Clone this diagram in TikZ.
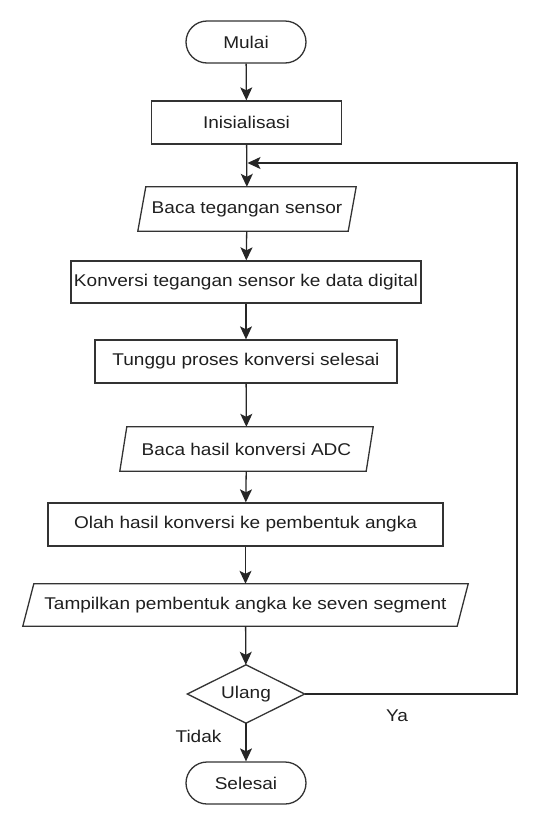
\documentclass[tikz,border=0pt]{standalone}
\usepackage{fontspec}
\setmainfont[FakeStretch=1.12]{Liberation Sans}
\usetikzlibrary{arrows.meta}
\begin{document}
\begin{tikzpicture}[x=1pt,y=-1pt,
  every node/.style={font=\fontsize{17}{20}\selectfont, text=black!88, inner sep=0pt},
  box/.style={draw=black!80, line width=1.3pt, minimum height=43pt},
  term/.style={box, rounded corners=21pt, minimum width=120pt, minimum height=42pt},
  iobox/.style={minimum height=44pt},
  shapeline/.style={draw=black!80, line width=1.3pt},
  flow/.style={draw=black!85, line width=1.3pt, -{Stealth[length=13pt,width=12pt,inset=3pt]}}
]
\useasboundingbox (0,0) rectangle (540,828);

\node[term] (mulai) at (246,42) {Mulai};
\node[box, minimum width=190pt] (init) at (246.5,122.5) {Inisialisasi};
\node[iobox, minimum width=210pt] (baca1) at (247,209) {Baca tegangan sensor};
\draw[shapeline] ([xshift=4pt]baca1.north west) -- ([xshift=4pt]baca1.north east) -- ([xshift=-4pt]baca1.south east) -- ([xshift=-4pt]baca1.south west) -- cycle;
\node[box, minimum width=350pt, minimum height=42pt] (konv) at (246,282) {Konversi tegangan sensor ke data digital};
\node[box, minimum width=302pt] (tunggu) at (246,361.5) {Tunggu proses konversi selesai};
\node[iobox, minimum width=246pt] (baca2) at (246.5,449) {Baca hasil konversi ADC};
\draw[shapeline] ([xshift=3.5pt]baca2.north west) -- ([xshift=3.5pt]baca2.north east) -- ([xshift=-3.5pt]baca2.south east) -- ([xshift=-3.5pt]baca2.south west) -- cycle;
\node[box, minimum width=395pt] (olah) at (245.5,524.5) {Olah hasil konversi ke pembentuk angka};
\node[iobox, minimum width=434pt, minimum height=42pt] (tampil) at (245.5,605) {Tampilkan pembentuk angka ke seven segment};
\draw[shapeline] ([xshift=5.5pt]tampil.north west) -- ([xshift=5.5pt]tampil.north east) -- ([xshift=-5.5pt]tampil.south east) -- ([xshift=-5.5pt]tampil.south west) -- cycle;
\node[minimum width=117pt, minimum height=58pt] (ulang) at (246,694) {Ulang};
\draw[shapeline] (ulang.north) -- (ulang.east) -- (ulang.south) -- (ulang.west) -- cycle;
\node[term] (selesai) at (246,783) {Selesai};

\node (ya) at (397,716) {Ya};
\node (tidak) at (198.5,736) {Tidak};

\coordinate (lc) at (517,163);
\coordinate (loopin) at (247.5,163);

\draw[flow] (mulai) -- (init);
\draw[flow] (init) -- (baca1);
\draw[flow] (baca1) -- (konv);
\draw[flow] (konv) -- (tunggu);
\draw[flow] (tunggu) -- (baca2);
\draw[flow] (baca2) -- (olah);
\draw[flow] (olah) -- (tampil);
\draw[flow] (tampil) -- (ulang);
\draw[flow] (ulang) -- (selesai);
\draw[flow] (ulang.east) -| (lc) -- (loopin);
\end{tikzpicture}
\end{document}
